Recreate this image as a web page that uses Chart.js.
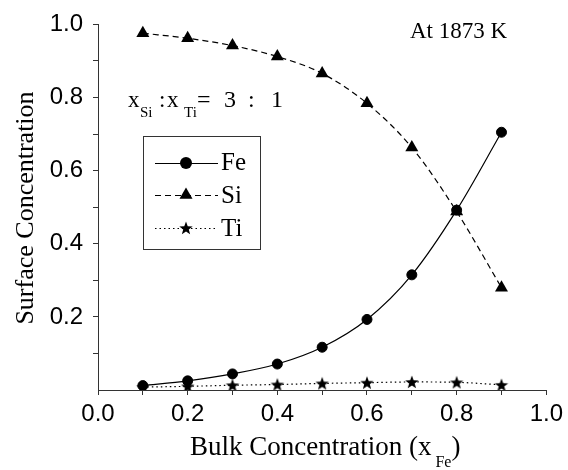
<!DOCTYPE html>
<html><head><meta charset="utf-8">
<script src="https://cdn.jsdelivr.net/npm/chart.js@4"></script>
<style>html,body{margin:0;padding:0;background:#fff}</style>
</head><body>
<canvas id="c" width="568" height="470" style="width:568px;height:470px;display:block"></canvas>
<script>
// ---- data ----
const bulk = [0.1, 0.2, 0.3, 0.4, 0.5, 0.6, 0.7, 0.8, 0.9];
const fe   = [0.012, 0.025, 0.044, 0.071, 0.117, 0.193, 0.315, 0.492, 0.705];
const si   = [0.976, 0.962, 0.942, 0.912, 0.866, 0.784, 0.663, 0.488, 0.280];
const ti   = [0.008, 0.010, 0.013, 0.015, 0.018, 0.020, 0.022, 0.021, 0.014];
const xLabels = ['0.0', '0.2', '0.4', '0.6', '0.8', '1.0'];
const yLabels = ['0.2', '0.4', '0.6', '0.8', '1.0'];
const seriesNames = ['Fe', 'Si', 'Ti'];

const SERIF = '"Liberation Serif","Times New Roman",serif';
const SANS = '"Liberation Sans",Arial,sans-serif';
const AXIS = '#333';

function starImg(R) {
  const s = Math.ceil(R * 2 + 2);
  const c = document.createElement('canvas');
  c.width = s; c.height = s;
  const g = c.getContext('2d');
  g.fillStyle = '#000';
  g.beginPath();
  for (let i = 0; i < 10; i++) {
    const r = i % 2 ? R * 0.42 : R;
    const a = -Math.PI / 2 + i * Math.PI / 5;
    g.lineTo(s / 2 + r * Math.cos(a), s / 2 + 0.6 + r * Math.sin(a));
  }
  g.closePath(); g.fill();
  return c;
}
const star = starImg(7);

const pts = arr => bulk.map((x, i) => ({x: x, y: arr[i]}));

const textPlugin = {
  id: 'texts',
  afterDraw(chart) {
    const g = chart.ctx;
    g.save();
    g.fillStyle = '#000';
    g.textBaseline = 'alphabetic';
    // y title
    g.save();
    g.translate(33, 208);
    g.rotate(-Math.PI / 2);
    g.font = '26px ' + SERIF;
    g.textAlign = 'center';
    g.fillText('Surface Concentration', 0, 0);
    g.restore();
    // x title
    g.textAlign = 'left';
    g.font = '27px ' + SERIF;
    const main = 'Bulk Concentration (x';
    let x = 190;
    g.fillText(main, x, 455);
    x += g.measureText(main).width + 4;
    g.font = '16px ' + SERIF;
    g.fillText('Fe', x, 467);
    x += g.measureText('Fe').width;
    g.font = '27px ' + SERIF;
    g.fillText(')', x, 455);
    // annotations
    g.font = '23px ' + SERIF;
    g.fillText('At 1873 K', 410, 38);
    g.fillText('x', 128, 107);
    g.font = '15px ' + SERIF;
    g.fillText('Si', 140, 117);
    g.font = '23px ' + SERIF;
    g.fillText(':', 159, 107);
    g.fillText('x', 167, 107);
    g.font = '15px ' + SERIF;
    g.fillText('Ti', 184, 117);
    g.font = '24px ' + SERIF;
    g.fillText('=', 197, 107);
    g.fillText('3', 224, 107);
    g.fillText(':', 248, 107);
    g.fillText('1', 271, 107);
    // legend
    g.strokeStyle = '#333';
    g.lineWidth = 1;
    g.strokeRect(143.5, 136.5, 117, 113);
    const rows = [163, 195, 228];
    const dashes = [[], [6, 4], [1.5, 3]];
    g.strokeStyle = '#000';
    rows.forEach((yy, i) => {
      g.setLineDash(dashes[i]);
      g.beginPath(); g.moveTo(155, yy + 0.5); g.lineTo(218, yy + 0.5); g.stroke();
    });
    g.setLineDash([]);
    g.beginPath(); g.arc(186, 163, 6, 0, Math.PI * 2); g.fill();
    const r = 7.5;
    g.beginPath();
    g.moveTo(186, 195 - r);
    g.lineTo(186 + 0.866 * r, 195 + 0.5 * r);
    g.lineTo(186 - 0.866 * r, 195 + 0.5 * r);
    g.closePath(); g.fill();
    g.drawImage(star, 186 - star.width / 2, 228 - star.height / 2);
    g.font = '25px ' + SERIF;
    g.fillText(seriesNames[0], 221, 170);
    g.fillText(seriesNames[1], 221, 203);
    g.fillText(seriesNames[2], 221, 236);
    g.restore();
  }
};

new Chart(document.getElementById('c'), {
  type: 'line',
  data: {
    datasets: [
      {label: seriesNames[0], data: pts(fe), borderColor: '#000', backgroundColor: '#000',
       borderWidth: 1.2, pointStyle: 'circle', pointRadius: 5, pointBorderWidth: 1,
       cubicInterpolationMode: 'monotone', order: 2},
      {label: seriesNames[1], data: pts(si), borderColor: '#000', backgroundColor: '#000',
       borderWidth: 1.2, borderDash: [6, 4], pointStyle: 'triangle', pointRadius: 7.5, pointBorderWidth: 0,
       cubicInterpolationMode: 'monotone', order: 1},
      {label: seriesNames[2], data: pts(ti), borderColor: '#000', backgroundColor: '#000',
       borderWidth: 1.2, borderDash: [1.5, 3], pointStyle: star, pointRadius: 7,
       cubicInterpolationMode: 'monotone', order: 3}
    ]
  },
  options: {
    responsive: false,
    animation: false,
    devicePixelRatio: 1,
    layout: {padding: {left: 0, top: 21, right: 18, bottom: 0}},
    plugins: {legend: {display: false}, tooltip: {enabled: false}},
    scales: {
      x: {
        type: 'linear', min: 0, max: 1,
        afterFit: s => { s.height = 80; },
        ticks: {stepSize: 0.1, autoSkip: false, maxRotation: 0, padding: 5,
          color: '#000', font: {family: SANS, size: 24},
          callback: v => { const k = Math.round(v * 10); return k % 2 === 0 ? xLabels[k / 2] : ''; }},
        grid: {drawOnChartArea: false, drawTicks: true, tickLength: 5, tickColor: AXIS},
        border: {display: true, color: AXIS, width: 1}
      },
      y: {
        min: 0, max: 1,
        afterFit: s => { s.width = 98; },
        ticks: {stepSize: 0.1, autoSkip: false, padding: 10,
          color: '#000', font: {family: SANS, size: 24},
          callback: v => { const k = Math.round(v * 10); return (k % 2 === 0 && k > 0) ? yLabels[k / 2 - 1] : ''; }},
        grid: {drawOnChartArea: false, drawTicks: true, tickLength: 5,
          tickColor: c => (c.tick && c.tick.value === 0) ? 'rgba(0,0,0,0)' : AXIS},
        border: {display: true, color: AXIS, width: 1}
      }
    }
  },
  plugins: [textPlugin]
});
</script>
</body></html>
